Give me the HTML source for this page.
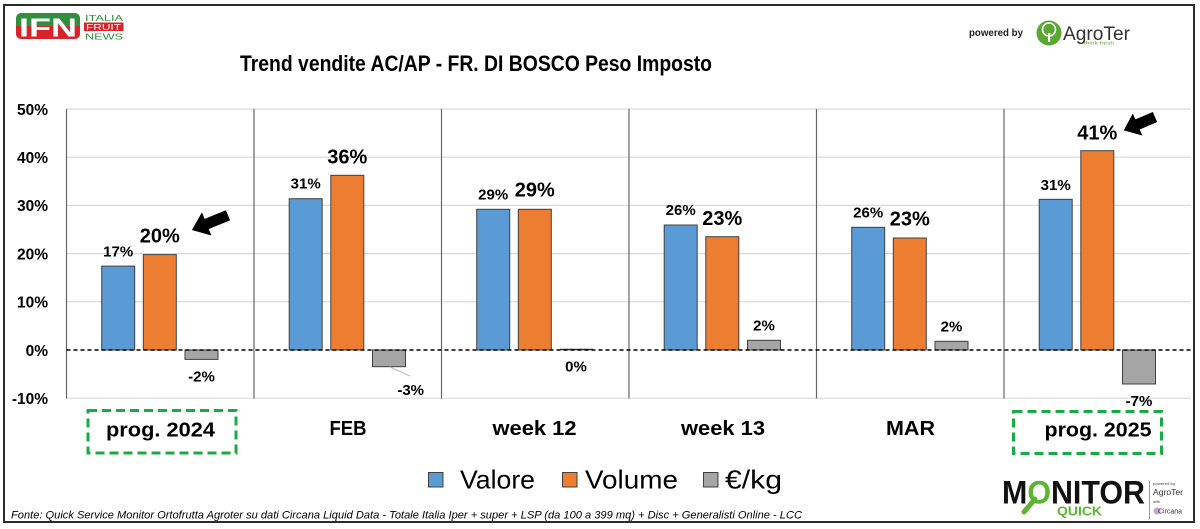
<!DOCTYPE html>
<html>
<head>
<meta charset="utf-8">
<style>
html,body{margin:0;padding:0;background:#fff;}
svg{display:block;}
text{font-family:"Liberation Sans",Arial,sans-serif;}
</style>
</head>
<body>
<svg width="1200" height="529" viewBox="0 0 1200 529" xmlns="http://www.w3.org/2000/svg">
<rect x="0" y="0" width="1200" height="529" fill="#fff"/>
<!-- frame -->
<rect x="4" y="5" width="1190" height="517" fill="none" stroke="#2b2b2b" stroke-width="2"/>

<!-- IFN logo -->
<defs>
<clipPath id="ifnclip"><rect x="16" y="13" width="64" height="26" rx="5" ry="5"/></clipPath>
</defs>
<g clip-path="url(#ifnclip)">
<rect x="16" y="13" width="64" height="13" fill="#2f8f3c"/>
<rect x="16" y="26" width="64" height="13" fill="#d8232a"/>
</g>
<text x="19" y="36.5" font-size="26" font-weight="bold" fill="#fff" textLength="58" lengthAdjust="spacingAndGlyphs">IFN</text>
<text x="85" y="21" font-size="8.5" fill="#2f8f3c" textLength="38" lengthAdjust="spacingAndGlyphs">ITALIA</text>
<rect x="84" y="22.5" width="39.5" height="8.5" fill="#d8232a"/>
<text x="86" y="30" font-size="8" fill="#fff" textLength="35" lengthAdjust="spacingAndGlyphs">FRUIT</text>
<text x="85" y="39.5" font-size="8.5" fill="#2f8f3c" textLength="38" lengthAdjust="spacingAndGlyphs">NEWS</text>

<!-- AgroTer logo -->
<text x="969" y="36" font-size="10" font-weight="bold" fill="#222" textLength="54" lengthAdjust="spacingAndGlyphs">powered by</text>
<circle cx="1049" cy="33" r="12.5" fill="#5aa832"/>
<circle cx="1049" cy="29.5" r="6.5" fill="none" stroke="#fff" stroke-width="1.6"/>
<rect x="1048" y="33" width="2.2" height="9" fill="#fff"/>
<text x="1063" y="40" font-size="19" fill="#333" textLength="67" lengthAdjust="spacingAndGlyphs">AgroTer</text>
<text x="1084" y="44.5" font-size="4.5" fill="#5aa832" textLength="30" lengthAdjust="spacingAndGlyphs">think fresh</text>

<!-- Title -->
<text x="240" y="71" font-size="22.5" font-weight="bold" fill="#000" textLength="472" lengthAdjust="spacingAndGlyphs">Trend vendite AC/AP - FR. DI BOSCO Peso Imposto</text>

<!-- gridlines -->
<g stroke="#d9d9d9" stroke-width="1.2">
<line x1="66.5" y1="109" x2="1191" y2="109"/>
<line x1="66.5" y1="157.2" x2="1191" y2="157.2"/>
<line x1="66.5" y1="205.4" x2="1191" y2="205.4"/>
<line x1="66.5" y1="253.6" x2="1191" y2="253.6"/>
<line x1="66.5" y1="301.8" x2="1191" y2="301.8"/>
<line x1="66.5" y1="398.2" x2="1191" y2="398.2"/>
</g>
<!-- vertical dividers -->
<g stroke="#666" stroke-width="1.2">
<line x1="66.5" y1="109" x2="66.5" y2="398.5"/>
<line x1="254" y1="109" x2="254" y2="398.5"/>
<line x1="441.5" y1="109" x2="441.5" y2="398.5"/>
<line x1="629" y1="109" x2="629" y2="398.5"/>
<line x1="816.5" y1="109" x2="816.5" y2="398.5"/>
<line x1="1004" y1="109" x2="1004" y2="398.5"/>
</g>

<!-- y axis labels -->
<g font-size="15.5" font-weight="bold" fill="#000" text-anchor="end">
<text x="48" y="114.8">50%</text>
<text x="48" y="163">40%</text>
<text x="48" y="211.2">30%</text>
<text x="48" y="259.4">20%</text>
<text x="48" y="307.6">10%</text>
<text x="48" y="355.8">0%</text>
<text x="48" y="404">-10%</text>
</g>

<!-- bars -->
<g stroke="#404040" stroke-width="1">
<rect x="101.7" y="266.1" width="33" height="83.9" fill="#5b9bd5"/>
<rect x="143.3" y="254.6" width="33" height="95.4" fill="#ed7d31"/>
<rect x="185" y="350" width="33" height="9.4" fill="#a5a5a5"/>
<rect x="289.2" y="198.7" width="33" height="151.3" fill="#5b9bd5"/>
<rect x="330.8" y="175.3" width="33" height="174.7" fill="#ed7d31"/>
<rect x="372.5" y="350" width="33" height="16.7" fill="#a5a5a5"/>
<rect x="476.7" y="209.3" width="33" height="140.7" fill="#5b9bd5"/>
<rect x="518.3" y="209.3" width="33" height="140.7" fill="#ed7d31"/>
<rect x="664.2" y="225" width="33" height="125" fill="#5b9bd5"/>
<rect x="705.8" y="236.7" width="33" height="113.3" fill="#ed7d31"/>
<rect x="747.5" y="340.3" width="33" height="9.7" fill="#a5a5a5"/>
<rect x="851.7" y="227.3" width="33" height="122.7" fill="#5b9bd5"/>
<rect x="893.3" y="238" width="33" height="112" fill="#ed7d31"/>
<rect x="935" y="341.3" width="33" height="8.7" fill="#a5a5a5"/>
<rect x="1039.2" y="199.3" width="33" height="150.7" fill="#5b9bd5"/>
<rect x="1080.8" y="150.7" width="33" height="199.3" fill="#ed7d31"/>
<rect x="1122.5" y="350" width="33" height="34" fill="#a5a5a5"/>
</g>
<line x1="560" y1="349.5" x2="593" y2="349.5" stroke="#333" stroke-width="1.5"/>

<!-- zero line -->
<line x1="66.5" y1="350" x2="1191" y2="350" stroke="#000" stroke-width="1.4" stroke-dasharray="4 3"/>

<!-- leader line FEB -->
<line x1="390" y1="367" x2="410" y2="376" stroke="#bfbfbf" stroke-width="1"/>

<!-- data labels small -->
<g font-size="15" font-weight="bold" fill="#000" text-anchor="middle">
<text x="118.2" y="256.7">17%</text>
<text x="201.5" y="381.7">-2%</text>
<text x="305.7" y="188.3">31%</text>
<text x="410.7" y="395">-3%</text>
<text x="493.2" y="199.3">29%</text>
<text x="576" y="371.7">0%</text>
<text x="680.7" y="215">26%</text>
<text x="764" y="330.7">2%</text>
<text x="868.2" y="217.3">26%</text>
<text x="951.5" y="331.7">2%</text>
<text x="1055.7" y="190">31%</text>
<text x="1139" y="406">-7%</text>
</g>
<!-- data labels big -->
<g font-size="20" font-weight="bold" fill="#000" text-anchor="middle">
<text x="159.8" y="242.3">20%</text>
<text x="347.3" y="163.3">36%</text>
<text x="534.8" y="196.7">29%</text>
<text x="722.3" y="225">23%</text>
<text x="909.8" y="225.7">23%</text>
<text x="1097.3" y="139.3">41%</text>
</g>

<!-- arrows -->
<polygon points="0,-5.5 23,-5.5 23,-12.5 39,0 23,12.5 23,5.5 0,5.5" fill="#000" transform="translate(228,215.3) rotate(157.9)"/>
<polygon points="0,-5.5 19,-5.5 19,-12 34,0 19,12 19,5.5 0,5.5" fill="#000" transform="translate(1155,117) rotate(156.8)"/>

<!-- dashed boxes -->
<rect x="88" y="410.5" width="148" height="42.5" fill="none" stroke="#1aab45" stroke-width="3" stroke-dasharray="9 5"/>
<rect x="1013.5" y="411.5" width="148" height="42" fill="none" stroke="#1aab45" stroke-width="3" stroke-dasharray="9 5"/>

<!-- category labels -->
<g font-size="20" font-weight="bold" fill="#000" text-anchor="middle">
<text x="160.5" y="436.5" textLength="109" lengthAdjust="spacingAndGlyphs">prog. 2024</text>
<text x="348" y="435" textLength="37" lengthAdjust="spacingAndGlyphs">FEB</text>
<text x="534.5" y="435" textLength="84" lengthAdjust="spacingAndGlyphs">week 12</text>
<text x="723" y="435" textLength="84" lengthAdjust="spacingAndGlyphs">week 13</text>
<text x="910.5" y="435" textLength="49" lengthAdjust="spacingAndGlyphs">MAR</text>
<text x="1098" y="436.5" textLength="107" lengthAdjust="spacingAndGlyphs">prog. 2025</text>
</g>

<!-- legend -->
<rect x="428.5" y="472.5" width="14.5" height="14.5" fill="#5b9bd5" stroke="#404040" stroke-width="1"/>
<text x="460" y="488.5" font-size="26" fill="#000" textLength="75" lengthAdjust="spacingAndGlyphs">Valore</text>
<rect x="562.5" y="472.5" width="14.5" height="14.5" fill="#ed7d31" stroke="#404040" stroke-width="1"/>
<text x="585" y="488.5" font-size="26" fill="#000" textLength="93" lengthAdjust="spacingAndGlyphs">Volume</text>
<rect x="703.5" y="472.5" width="14.5" height="14.5" fill="#a5a5a5" stroke="#404040" stroke-width="1"/>
<text x="725" y="488.5" font-size="26" fill="#000" textLength="57" lengthAdjust="spacingAndGlyphs">€/kg</text>

<!-- footer -->
<text x="11" y="518.5" font-size="11" font-style="italic" fill="#000" textLength="791" lengthAdjust="spacingAndGlyphs">Fonte: Quick Service Monitor Ortofrutta Agroter su dati Circana Liquid Data - Totale Italia Iper + super + LSP (da 100 a 399 mq) + Disc + Generalisti Online - LCC</text>

<!-- Monitor Quick logo -->
<text x="1002" y="503.5" font-size="32" font-weight="bold" fill="#111" textLength="143" lengthAdjust="spacingAndGlyphs">M<tspan fill="#5cb531">O</tspan>NITOR</text>
<line x1="1035" y1="499" x2="1024" y2="512" stroke="#5cb531" stroke-width="5" stroke-linecap="round"/>
<text x="1057" y="515.5" font-size="13" font-weight="bold" fill="#5cb531" textLength="45" lengthAdjust="spacingAndGlyphs">QUICK</text>
<line x1="1149.5" y1="481" x2="1149.5" y2="519" stroke="#999" stroke-width="1"/>
<text x="1153" y="485" font-size="4" fill="#444" textLength="22" lengthAdjust="spacingAndGlyphs">powered by</text>
<text x="1153" y="495" font-size="8" fill="#333" textLength="30" lengthAdjust="spacingAndGlyphs">AgroTer</text>
<text x="1153" y="503" font-size="4" fill="#444">with</text>
<circle cx="1157" cy="511" r="3.5" fill="#c9a3d6"/>
<text x="1158" y="513.5" font-size="7" fill="#333" textLength="24" lengthAdjust="spacingAndGlyphs">Circana</text>
</svg>
</body>
</html>
